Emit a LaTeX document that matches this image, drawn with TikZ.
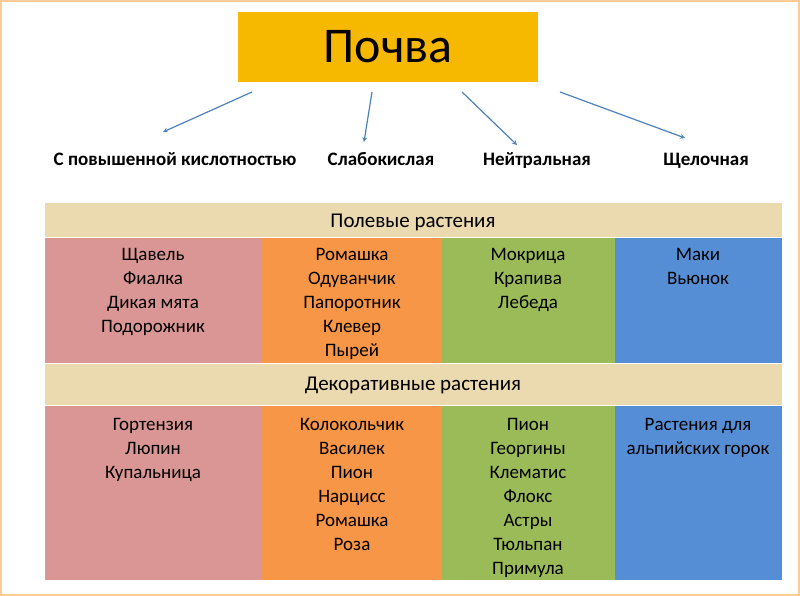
\documentclass[tikz,border=0pt]{standalone}
\usepackage{fontspec}
\setmainfont{Carlito}
\definecolor{cpink}{HTML}{D99694}
\definecolor{corange}{HTML}{F79646}
\definecolor{cgreen}{HTML}{9BBB59}
\definecolor{cblue}{HTML}{558ED5}
\definecolor{cband}{HTML}{EBD9B0}
\definecolor{ctitle}{HTML}{F7B800}
\definecolor{carr}{HTML}{4F81BD}
\begin{document}
\begin{tikzpicture}[x=1pt,y=-1pt,
 arr/.style={-stealth,draw=carr,line width=1.2pt},
 lab/.style={anchor=base,font=\bfseries\fontsize{19}{22}\selectfont},
 cell/.style={align=center,anchor=north,font=\fontsize{19}{24}\selectfont},
 hd/.style={anchor=base,font=\fontsize{21}{24}\selectfont},
 band/.style={fill=cband,draw=none}]
\fill[white] (0,0) rectangle (800,596);
\draw[orange!40,line width=2pt] (1,1) rectangle (799,595);
\node[fill=ctitle,minimum width=300pt,minimum height=70pt,font=\fontsize{50}{56}\selectfont] (t) at (388,47) {Почва};
\node[lab] (a) at (175,166) {С повышенной кислотностью};
\node[lab] (b) at (381,166) {Слабокислая};
\node[lab] (c) at (537,166) {Нейтральная};
\node[lab] (d) at (706,166) {Щелочная};
\coordinate (s1) at (252,92);\coordinate (e1) at (163,132);
\coordinate (s2) at (372,92);\coordinate (e2) at (364,142);
\coordinate (s3) at (462,92);\coordinate (e3) at (517,145);
\coordinate (s4) at (560,92);\coordinate (e4) at (685,138);
\draw[arr] (s1)--(e1);\draw[arr] (s2)--(e2);\draw[arr] (s3)--(e3);\draw[arr] (s4)--(e4);
\fill[band] (45,203) rectangle (782,237);
\node[hd] (h1) at (413,227) {Полевые растения};
\fill[band] (45,364) rectangle (782,405);
\node[hd] (h2) at (413,390) {Декоративные растения};
\fill[cpink] (45,238) rectangle (262,363);
\fill[corange] (262,238) rectangle (442,363);
\fill[cgreen] (442,238) rectangle (615,363);
\fill[cblue] (615,238) rectangle (782,363);
\fill[cpink] (45,406) rectangle (262,580);
\fill[corange] (262,406) rectangle (442,580);
\fill[cgreen] (442,406) rectangle (615,580);
\fill[cblue] (615,406) rectangle (782,580);
\node[cell] (p1) at (153,245) {Щавель\\Фиалка\\Дикая мята\\Подорожник};
\node[cell] (p2) at (352,245) {Ромашка\\Одуванчик\\Папоротник\\Клевер\\Пырей};
\node[cell] (p3) at (528,245) {Мокрица\\Крапива\\Лебеда};
\node[cell] (p4) at (698,245) {Маки\\Вьюнок};
\node[cell] (q1) at (153,415) {Гортензия\\Люпин\\Купальница};
\node[cell] (q2) at (352,415) {Колокольчик\\Василек\\Пион\\Нарцисс\\Ромашка\\Роза};
\node[cell] (q3) at (528,415) {Пион\\Георгины\\Клематис\\Флокс\\Астры\\Тюльпан\\Примула};
\node[cell] (q4) at (698,415) {Растения для\\альпийских горок};
\end{tikzpicture}
\end{document}
